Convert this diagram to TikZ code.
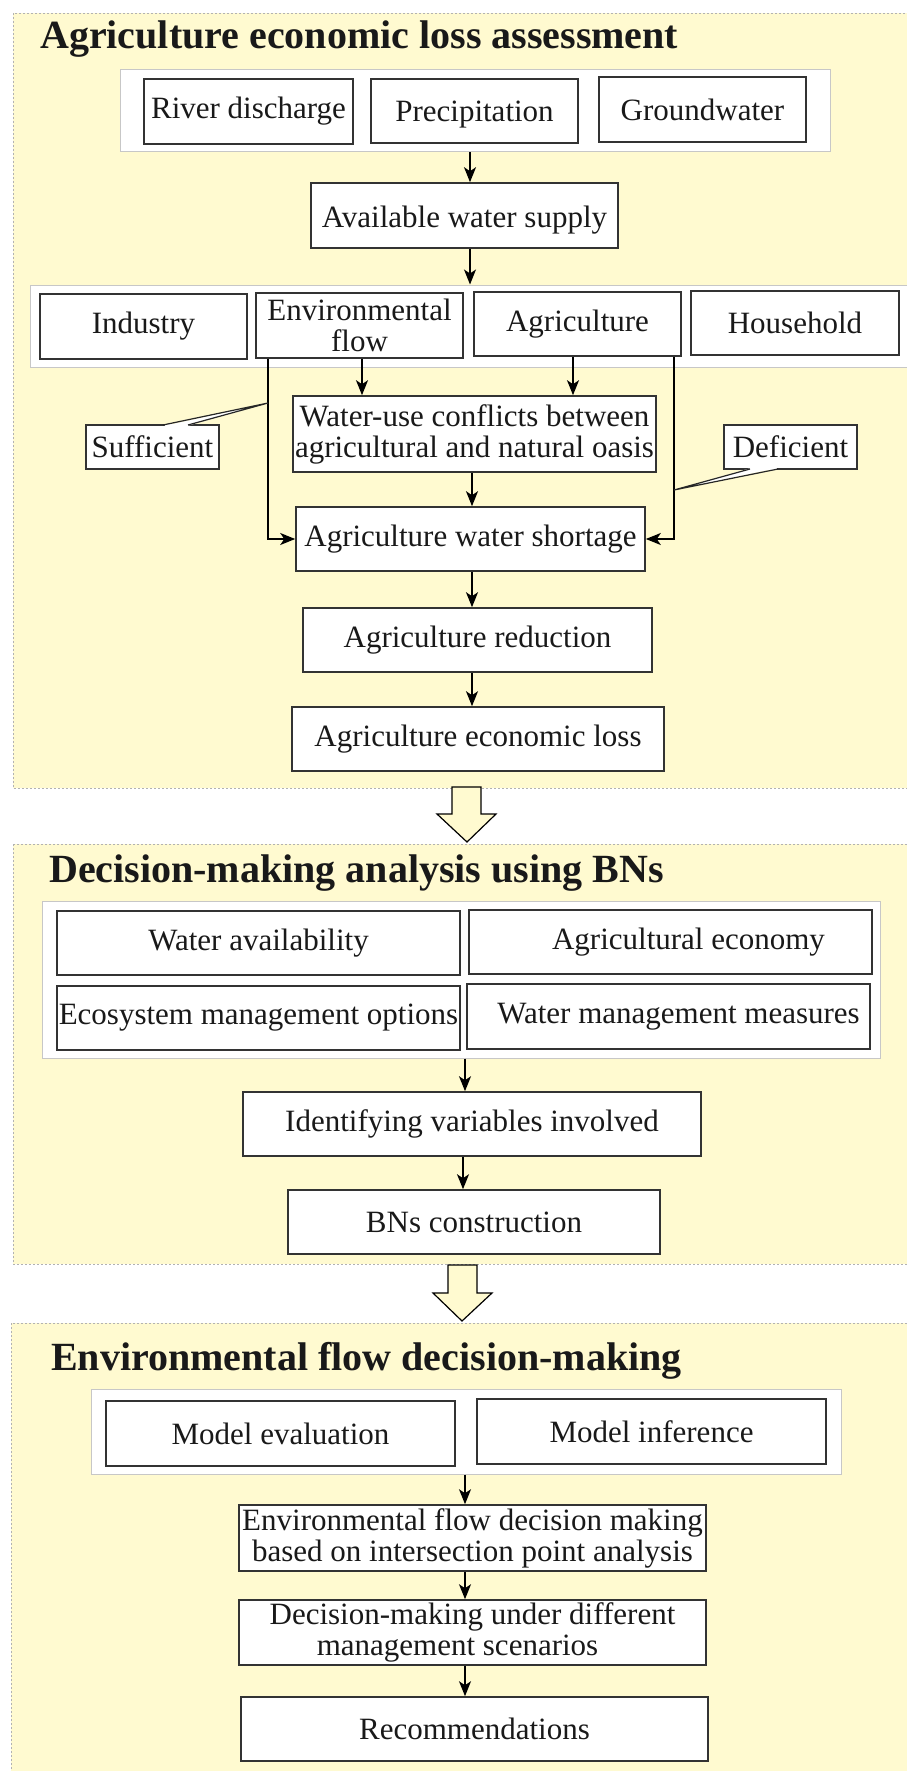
\documentclass[tikz,border=0pt]{standalone}
\usepackage{fontspec}
\setmainfont{Liberation Serif}
\usetikzlibrary{arrows.meta}
\definecolor{secbg}{RGB}{255,250,208}
\begin{document}
\begin{tikzpicture}[x=1pt,y=-1pt,
  box/.style={draw=black!80, line width=1.6pt, fill=white, inner sep=0pt, align=center,
    font=\fontsize{31}{31}\selectfont, text=black!90},
  panel/.style={draw=black!22, line width=1pt, fill=white, inner sep=0pt},
  section/.style={fill=secbg, draw=black!30, line width=0.6pt, dash pattern=on 2pt off 2pt},
  ttl/.style={anchor=base west, inner sep=0pt, font=\fontsize{40}{41}\selectfont\bfseries, text=black!90},
  arr/.style={line width=1.3pt, -{Stealth[length=15pt,width=12pt,inset=4pt]}},
  ln/.style={line width=1.3pt},
  hollow/.style={fill=secbg, draw=black, line width=1.2pt, line join=miter}
]
\useasboundingbox (0,0) rectangle (906,1771);
\fill[white] (0,0) rectangle (906,1771);

% ---------- sections ----------
\draw[section] (13,13) rectangle (920,788);
\draw[section] (13,844) rectangle (920,1264);
\draw[section] (11,1323) rectangle (920,1790);

% ---------- section 1 ----------
\node[ttl] (t1) at (40,49) {Agriculture economic loss assessment};

\node[panel, minimum width=710pt, minimum height=82pt] (p1) at (475,111) {};
\node[box, minimum width=209pt, minimum height=65pt] (riv) at (248.5,111.5) {River discharge};
\node[box, minimum width=207pt, minimum height=64pt, text height=21pt, text depth=0pt] (pre) at (474.5,111) {Precipitation};
\node[box, minimum width=207pt, minimum height=65pt] (gro) at (702.5,109.5) {Groundwater};

\node[box, minimum width=307pt, minimum height=65pt, text height=25pt, text depth=0pt] (avail) at (464.5,215.5) {Available water supply};

\node[panel, minimum width=890pt, minimum height=82pt] (p2) at (475,326) {};
\node[box, minimum width=207pt, minimum height=65pt] (ind) at (143.5,326.5) {Industry};
\node[box, minimum width=207pt, minimum height=65pt] (env) at (359.5,325.5) {Environmental\\flow};
\node[box, minimum width=207pt, minimum height=64pt] (agr) at (577.5,324) {Agriculture};
\node[box, minimum width=208pt, minimum height=64pt] (hou) at (795,323) {Household};

\node[box, minimum width=363pt, minimum height=76pt] (conf) at (474.5,434)
  {Water-use conflicts between\\agricultural and natural oasis};
\node[box, minimum width=133pt, minimum height=44pt] (suff) at (152.5,447) {Sufficient};
\node[box, minimum width=133pt, minimum height=44pt] (def) at (790.5,447) {Deficient};

\node[box, minimum width=349pt, minimum height=64pt] (short) at (470.5,539) {Agriculture water shortage};
\node[box, minimum width=349pt, minimum height=64pt] (red) at (477.5,640) {Agriculture reduction};
\node[box, minimum width=372pt, minimum height=64pt] (loss) at (478,739) {Agriculture economic loss};

\coordinate (kA) at (470,0);
\coordinate (kEnv) at (362,0);
\coordinate (kAgr) at (573,0);
\coordinate (kL) at (268,0);
\coordinate (kR) at (674,0);
\coordinate (kS) at (472,0);

\draw[arr] (p1.south -| kA) -- (avail.north -| kA);
\draw[arr] (avail.south -| kA) -- (p2.north -| kA);
\draw[arr] (env.south -| kEnv) -- (conf.north -| kEnv);
\draw[arr] (agr.south -| kAgr) -- (conf.north -| kAgr);
\draw[arr] (env.south -| kL) -- (kL |- short.west) -- (short.west);
\draw[arr] (agr.south -| kR) -- (kR |- short.east) -- (short.east);
\draw[arr] (conf.south -| kS) -- (short.north -| kS);
\draw[arr] (short.south -| kS) -- (red.north -| kS);
\draw[arr] (red.south -| kS) -- (loss.north -| kS);

% callout pointers
\coordinate (tipS) at (268,403);
\coordinate (tipD) at (674,490);
\fill[white] (164.5,423.8) rectangle (187.5,426.3);
\fill[white] (164,426) -- (tipS) -- (187,426) -- cycle;
\draw[line width=1.2pt, line join=miter, draw=black!85] (163,425) -- (tipS) -- (188,425);
\fill[white] (751,467.7) rectangle (777,470.2);
\fill[white] (751,468) -- (tipD) -- (777,468) -- cycle;
\draw[line width=1.2pt, line join=miter, draw=black!85] (750,469) -- (tipD) -- (778,469);

% hollow arrow 1
\draw[hollow] (452,787) -- (481,787) -- (481,814) -- (496,814) -- (467,842) -- (437,814) -- (452,814) -- cycle;

% ---------- section 2 ----------
\node[ttl] (t2) at (49,882) {Decision-making analysis using BNs};
\node[panel, minimum width=838pt, minimum height=157pt] (p3) at (461,979.5) {};
\node[box, minimum width=403pt, minimum height=64pt] (wav) at (258.5,943) {Water availability};
\node[box, minimum width=403pt, minimum height=64pt] (aec) at (670.5,942) {\hspace*{36pt}Agricultural economy};
\node[box, minimum width=403pt, minimum height=64pt] (eco) at (258.5,1018) {Ecosystem management options};
\node[box, minimum width=403pt, minimum height=65pt] (wmm) at (668.5,1016.5) {\hspace*{20pt}Water management measures};

\node[box, minimum width=458pt, minimum height=64pt] (ident) at (472,1124) {Identifying variables involved};
\node[box, minimum width=372pt, minimum height=64pt] (bns) at (474,1222) {BNs construction};

\coordinate (kB) at (465,0);
\coordinate (kB2) at (463,0);
\draw[arr] (p3.south -| kB) -- (ident.north -| kB);
\draw[arr] (ident.south -| kB2) -- (bns.north -| kB2);

% hollow arrow 2
\draw[hollow] (448,1265) -- (477,1265) -- (477,1293) -- (492,1293) -- (462,1321) -- (433,1293) -- (448,1293) -- cycle;

% ---------- section 3 ----------
\node[ttl] (t3) at (51,1370) {Environmental flow decision-making};
\node[panel, minimum width=750pt, minimum height=85pt] (p4) at (466,1431.5) {};
\node[box, minimum width=349pt, minimum height=65pt] (mev) at (280.5,1433.5) {Model evaluation};
\node[box, minimum width=349pt, minimum height=65pt] (minf) at (651.5,1431.5) {Model inference};

\node[box, minimum width=467pt, minimum height=66pt] (efd) at (472.5,1538)
  {Environmental flow decision making\\based on intersection point analysis};
\node[box, minimum width=467pt, minimum height=65pt] (dmu) at (472.5,1632.5)
  {Decision-making under different\\management scenarios\hspace*{30pt}};
\node[box, minimum width=467pt, minimum height=64pt] (rec) at (474.5,1729) {Recommendations};

\coordinate (kC) at (465,0);
\draw[arr] (p4.south -| kC) -- (efd.north -| kC);
\draw[arr] (efd.south -| kC) -- (dmu.north -| kC);
\draw[arr] (dmu.south -| kC) -- (rec.north -| kC);
\end{tikzpicture}
\end{document}
